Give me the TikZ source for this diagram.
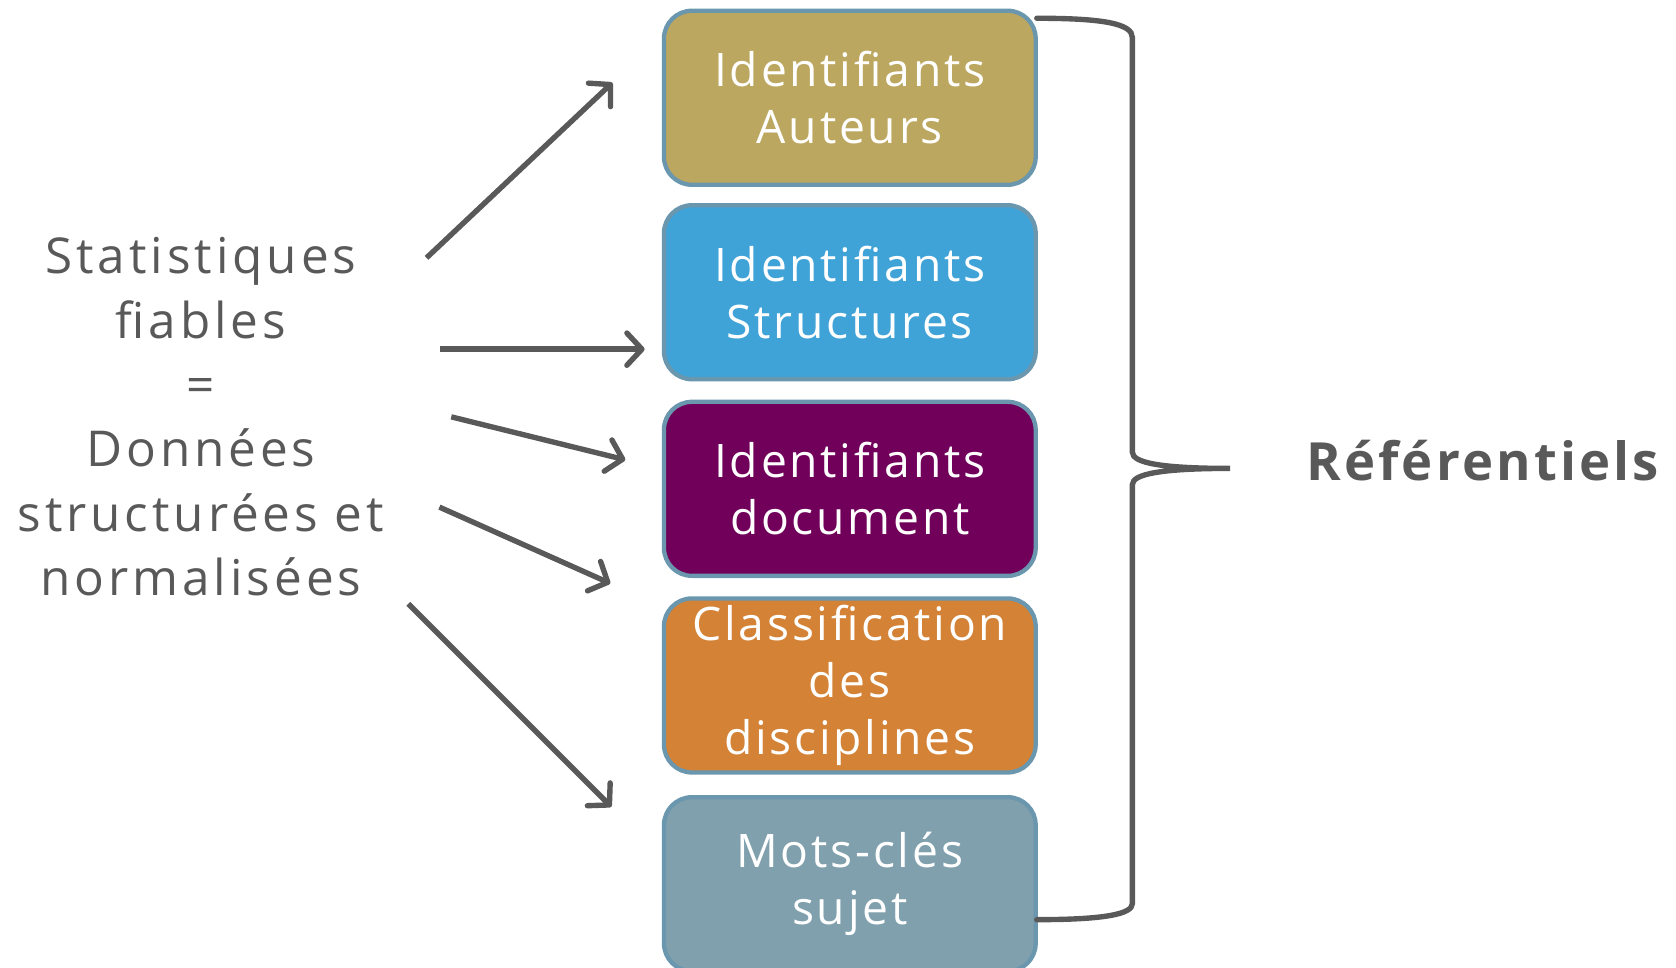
\documentclass[tikz,border=0pt]{standalone}
\usepackage{fontspec}
\setmainfont{Open Sans}
\newfontfamily\boxfont[LetterSpace=6]{Open Sans}
\newfontfamily\leftfont[LetterSpace=8]{Open Sans}
\newfontfamily\reffont[LetterSpace=6]{Open Sans}
\usetikzlibrary{arrows.meta}
\definecolor{txtgray}{HTML}{595959}
\definecolor{boxedge}{HTML}{6A96AE}
\definecolor{cgold}{HTML}{BBA75F}
\definecolor{cblue}{HTML}{40A3D8}
\definecolor{cpurple}{HTML}{71005B}
\definecolor{corange}{HTML}{D48236}
\definecolor{cslate}{HTML}{80A0AD}
\tikzset{
  refbox/.style={draw=boxedge, line width=4pt, rounded corners=26pt,
    minimum width=346pt, minimum height=162pt, inner sep=0pt,
    text=white, align=center, font=\boxfont\fontsize{43}{53}\selectfont},
  arr/.style={draw=txtgray, line width=5pt,
    -{Straight Barb[length=14pt,width=30pt,line cap=round,line join=round]}},
  bracepath/.style={draw=txtgray, line width=5pt, line cap=round},
  lefttext/.style={text=txtgray, align=center, font=\leftfont\fontsize{46}{60}\selectfont}
}
\begin{document}
\begin{tikzpicture}[x=1pt,y=-1pt]
\useasboundingbox (0,0) rectangle (1560,901);
\node[refbox, fill=cgold]   (b1) at (791,91)  {Identifiants\\Auteurs};
\node[refbox, fill=cblue]   (b2) at (791,272) {Identifiants\\Structures};
\node[refbox, fill=cpurple] (b3) at (791,455) {Identifiants\\document};
\node[refbox, fill=corange] (b4) at (791,638) {Classification\\des\\disciplines};
\node[refbox, fill=cslate]  (b5) at (791,823) {Mots-clés\\sujet};
\node[lefttext] (src) at (187,388) {Statistiques\\fiables\\=\\Données\\structurées et\\normalisées};
\node[text=txtgray, font=\reffont\fontsize{49}{56}\selectfont\bfseries] (ref) at (1380,429) {Référentiels};
% arrow endpoints
\coordinate (s1) at (397,240); \coordinate (e1) at (570,77);
\coordinate (s2) at (410,325); \coordinate (e2) at (600,325);
\coordinate (s3) at (420,388); \coordinate (e3) at (582,428);
\coordinate (s4) at (409,472); \coordinate (e4) at (568,543);
\coordinate (s5) at (380,562); \coordinate (e5) at (569,751);
\draw[arr] (s1) -- (e1);
\draw[arr] (s2) -- (e2);
\draw[arr] (s3) -- (e3);
\draw[arr] (s4) -- (e4);
\draw[arr] (s5) -- (e5);
% brace
\coordinate (bt) at (965,17);
\coordinate (bb) at (965,856);
\coordinate (tip) at (1145,436);
\draw[bracepath] (bt) .. controls (1027,17) and (1054,22) .. (1054,35)
  -- (1054,421) .. controls (1054,431) and (1082,436) .. (tip)
  .. controls (1082,436) and (1054,441) .. (1054,451)
  -- (1054,841) .. controls (1054,851) and (1027,856) .. (bb);
\end{tikzpicture}
\end{document}
